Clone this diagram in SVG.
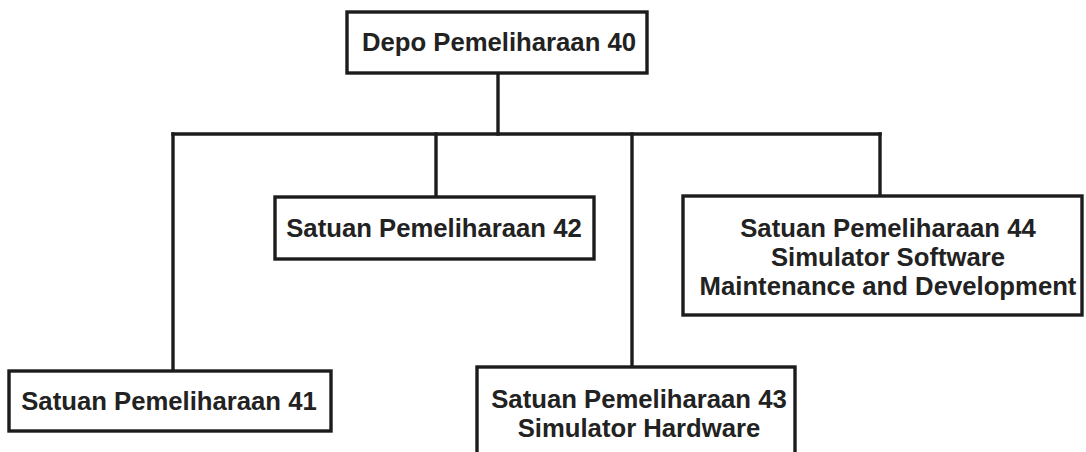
<svg xmlns="http://www.w3.org/2000/svg" width="1086" height="452" viewBox="0 0 1086 452">
  <style>
    .box { fill: #ffffff; stroke: #1c1c1c; stroke-width: 3.4; }
    .lbl { font-family: "Liberation Sans", Arial, sans-serif; font-weight: bold; font-size: 25.7px; fill: #222222; text-anchor: middle; }
    .conn { stroke: #1c1c1c; stroke-width: 3.4; fill: none; stroke-linecap: square; }
  </style>
  <rect x="0" y="0" width="1086" height="452" fill="#ffffff"/>
  <g id="connectors">
    <line class="conn" x1="498" y1="73" x2="498" y2="134"/>
    <line class="conn" x1="173" y1="134" x2="880" y2="134"/>
    <line class="conn" x1="173" y1="134" x2="173" y2="371"/>
    <line class="conn" x1="436" y1="134" x2="436" y2="197"/>
    <line class="conn" x1="632" y1="134" x2="632" y2="367"/>
    <line class="conn" x1="880" y1="134" x2="880" y2="196"/>
  </g>
  <g id="node40">
    <rect class="box" x="347" y="12" width="300" height="61"/>
    <text class="lbl" x="499" y="51">Depo Pemeliharaan 40</text>
  </g>
  <g id="node41">
    <rect class="box" x="9" y="371" width="322" height="60"/>
    <text class="lbl" x="169" y="410">Satuan Pemeliharaan 41</text>
  </g>
  <g id="node42">
    <rect class="box" x="275" y="197" width="319" height="62"/>
    <text class="lbl" x="434" y="237">Satuan Pemeliharaan 42</text>
  </g>
  <g id="node43">
    <rect class="box" x="477" y="367" width="318" height="100"/>
    <text class="lbl" x="639" y="408">Satuan Pemeliharaan 43</text>
    <text class="lbl" x="639" y="437">Simulator Hardware</text>
  </g>
  <g id="node44">
    <rect class="box" x="683" y="196" width="399" height="119"/>
    <text class="lbl" x="888" y="237">Satuan Pemeliharaan 44</text>
    <text class="lbl" x="888" y="266">Simulator Software</text>
    <text class="lbl" x="888" y="295">Maintenance and Development</text>
  </g>
</svg>
